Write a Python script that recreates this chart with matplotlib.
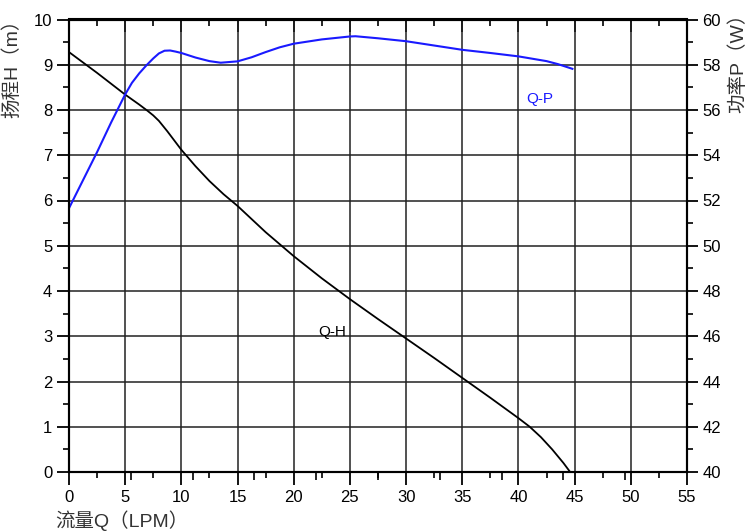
import matplotlib
matplotlib.use('Agg')
import matplotlib.pyplot as plt
from matplotlib.ticker import MultipleLocator, FixedLocator, NullFormatter
import numpy as np

# Q-H curve (flow LPM vs head m)
qh_q = [0, 2.5, 5, 6.25, 7, 7.5, 8, 8.75, 10, 11.25, 12.5, 13.75, 15, 17.5,
        20, 22.5, 25, 27.5, 30, 32.5, 35, 37.5, 40, 41, 42, 43, 44, 44.6]
qh_h = [9.28, 8.82, 8.34, 8.12, 7.98, 7.88, 7.76, 7.53, 7.12, 6.76, 6.43,
        6.14, 5.88, 5.3, 4.77, 4.28, 3.82, 3.38, 2.95, 2.52, 2.08, 1.64, 1.19,
        1.0, 0.77, 0.5, 0.2, 0.0]

# Q-P curve (flow LPM vs power W)
qp_q = [0, 1.25, 2.5, 3.75, 5, 5.6, 6.25, 6.9, 7.5, 8.0, 8.5, 9.0, 9.5, 10,
        11.25, 12.5, 13.5, 15, 16.25, 17.5, 18.75, 20, 22.5, 25, 25.5, 27.5,
        30, 32.5, 35, 37.5, 40, 42.5, 43.5, 44.8]
qp_p = [51.66, 52.9, 54.14, 55.45, 56.69, 57.2, 57.62, 57.98, 58.28, 58.5,
        58.62, 58.63, 58.58, 58.52, 58.32, 58.16, 58.09, 58.15, 58.33, 58.56,
        58.77, 58.93, 59.12, 59.25, 59.26, 59.17, 59.04, 58.85, 58.66, 58.52,
        58.37, 58.16, 58.03, 57.82]

latin = 'Liberation Sans'
cjk = ['Liberation Sans', 'Noto Sans CJK SC']
plt.rcParams['font.family'] = [latin, 'Noto Sans CJK SC']

fig = plt.figure(figsize=(7.5, 5.32), dpi=100)
ax = fig.add_axes([69 / 750, 60 / 532, 618 / 750, 452.5 / 532])
ax2 = ax.twinx()

ax.plot(qh_q, qh_h, color='black', lw=1.3)
ax2.plot(qp_q, qp_p, color='#1a1aff', lw=1.5)

ax.set_xlim(0, 55)
ax.set_ylim(0, 10)
ax2.set_ylim(40, 60)

ax.xaxis.set_major_locator(MultipleLocator(5))
ax.xaxis.set_minor_locator(MultipleLocator(2.5))
ax.yaxis.set_major_locator(MultipleLocator(1))
ax.yaxis.set_minor_locator(MultipleLocator(0.5))
ax2.yaxis.set_major_locator(MultipleLocator(2))
ax2.yaxis.set_minor_locator(MultipleLocator(1))

ax.grid(True, which='major', color='#222222', lw=1.1)
ax.set_axisbelow(True)

ax.tick_params(axis='x', which='major', direction='out', length=9, width=1.3,
               labelsize=12, pad=4)
ax.tick_params(axis='x', which='minor', direction='out', length=4, width=1.2)
ax.tick_params(axis='y', which='major', direction='out', length=9, width=1.3,
               labelsize=12, pad=3)
ax.tick_params(axis='y', which='minor', direction='out', length=4, width=1.2)
ax2.tick_params(axis='y', which='major', direction='out', length=8, width=1.3,
                labelsize=12, pad=3)
ax2.tick_params(axis='y', which='minor', direction='out', length=4, width=1.2)

# top ticks, pointing in
top = ax.secondary_xaxis('top')
top.xaxis.set_major_locator(MultipleLocator(5))
top.xaxis.set_minor_locator(MultipleLocator(2.5))
top.xaxis.set_major_formatter(NullFormatter())
top.tick_params(which='major', direction='in', length=9, width=1.3)
top.tick_params(which='minor', direction='in', length=5, width=1.2)

# second set of bottom ticks every 5.5
bot2 = ax.secondary_xaxis('bottom')
bot2.xaxis.set_major_locator(FixedLocator(np.arange(5.5, 55, 5.5)))
bot2.xaxis.set_major_formatter(NullFormatter())
bot2.tick_params(which='major', direction='out', length=6, width=1.2)
bot2.spines['bottom'].set_visible(False)

for a in (ax, ax2, top):
    for s in a.spines.values():
        s.set_linewidth(1.5)
        s.set_color('black')

ax2.text(41.9, 56.5, 'Q-P', color='#1a1aff', fontsize=11, ha='center',
         va='center', family=latin)
ax.text(23.4, 3.09, 'Q-H', color='black', fontsize=11, ha='center',
        va='center', family=latin)

fig.text(12 / 750, 1 - 64 / 532, '扬程H（m）', rotation=90, ha='center',
         va='center', fontsize=14, family=cjk, color='#333333')
fig.text(738 / 750, 1 - 58 / 532, '功率P（W）', rotation=90, ha='center',
         va='center', fontsize=14, family=cjk, color='#333333')
fig.text(55 / 750, 1 - 521 / 532, '流量Q（LPM）', ha='left', va='center',
         fontsize=14, family=cjk, color='#333333')

fig.savefig('out.png', dpi=100)
